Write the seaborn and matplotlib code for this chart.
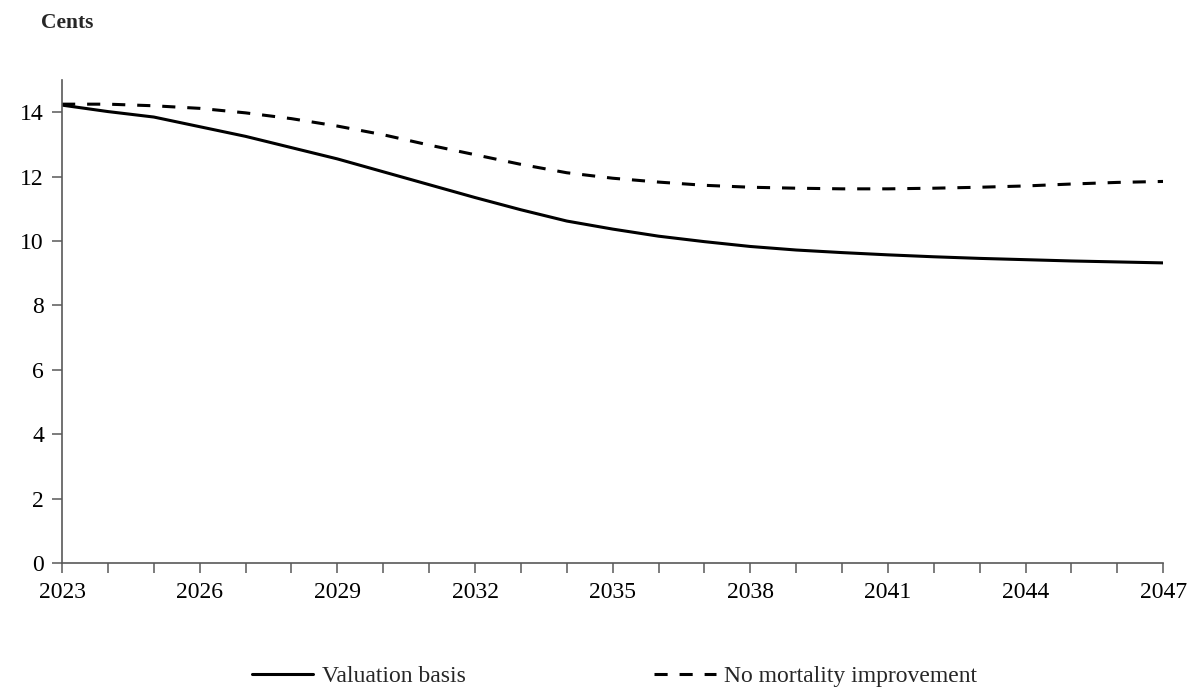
import numpy as np
import pandas as pd
import matplotlib
matplotlib.use('Agg')
import matplotlib.pyplot as plt
from matplotlib.lines import Line2D
import seaborn as sns

# 数据
years = list(range(2023, 2048))
valuation_basis = [14.22, 14.02, 13.85, 13.55, 13.25, 12.90, 12.55, 12.15, 11.75, 11.35,
                   10.97, 10.62, 10.37, 10.15, 9.98, 9.83, 9.72, 9.64, 9.57, 9.51,
                   9.46, 9.42, 9.38, 9.35, 9.32]
no_mortality = [14.25, 14.25, 14.20, 14.12, 13.98, 13.80, 13.57, 13.30, 12.98, 12.68,
                12.38, 12.12, 11.95, 11.83, 11.73, 11.67, 11.64, 11.62, 11.62, 11.64,
                11.67, 11.71, 11.77, 11.82, 11.85]
series_names = ['Valuation basis', 'No mortality improvement']

df = pd.DataFrame({
    'year': years * 2,
    'cents': valuation_basis + no_mortality,
    'series': [series_names[0]] * len(years) + [series_names[1]] * len(years),
})

sns.set_theme(style='white')
plt.rcParams['font.family'] = ['Liberation Serif', 'DejaVu Serif']

fig = plt.figure(figsize=(11.98, 6.94), dpi=100)
ax = fig.add_axes([0.0518, 0.1888, 0.9192, 0.6959])

sns.lineplot(data=df, x='year', y='cents', style='series', color='black',
             dashes={series_names[0]: '', series_names[1]: (4.3, 3.9)},
             linewidth=2.2, ax=ax, legend=False)

ax.set_xlim(2023, 2047)
ax.set_ylim(0, 15)
ax.set_yticks(np.arange(0, 15, 2))
ax.set_xticks(range(2023, 2048, 3))
ax.set_xticks(range(2023, 2048), minor=True)
ax.set_xlabel('')
ax.set_ylabel('')

for side in ['top', 'right']:
    ax.spines[side].set_visible(False)
for side in ['left', 'bottom']:
    ax.spines[side].set_color('#595959')
    ax.spines[side].set_linewidth(1.2)

ax.tick_params(axis='y', which='major', direction='out', length=7, width=1.1,
               color='#595959', left=True, labelsize=17, labelcolor='black', pad=6)
ax.tick_params(axis='x', which='both', direction='out', length=7, width=1.1,
               color='#595959', bottom=True, labelsize=17, labelcolor='black', pad=7)

fig.text(0.034, 0.967, 'Cents', fontsize=15.5, fontweight='bold', ha='left', va='center')

handles = [Line2D([], [], color='black', linewidth=2.2),
           Line2D([], [], color='black', linewidth=2.2, dashes=(4.3, 3.9))]
fig.legend(handles, series_names, loc='center', bbox_to_anchor=(0.513, 0.025),
           ncol=2, frameon=False, fontsize=17, handlelength=2.6, handletextpad=0.35,
           columnspacing=8.0)

fig.savefig('out.png', dpi=100)
